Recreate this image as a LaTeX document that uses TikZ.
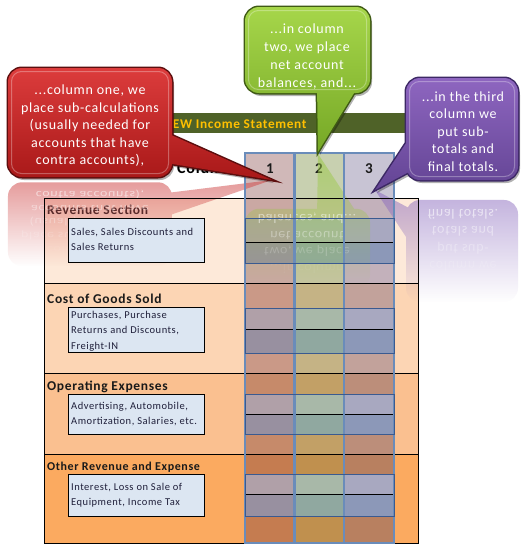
\documentclass[tikz,border=0pt]{standalone}
\usepackage{fontspec}
\setmainfont{Carlito}
\newfontfamily\wide{Carlito}[LetterSpace=5]
\usetikzlibrary{fadings}
\definecolor{secA}{HTML}{FDE9D9}
\definecolor{secB}{HTML}{FCD5B4}
\definecolor{secC}{HTML}{FAC090}
\definecolor{secD}{HTML}{FBAA60}
\definecolor{hA}{HTML}{D0B8B8}\definecolor{hB}{HTML}{C8D0B0}\definecolor{hC}{HTML}{C8C4D4}
\definecolor{aA}{HTML}{CAA8A3}\definecolor{aB}{HTML}{C5C4A1}\definecolor{aC}{HTML}{C3B1BB}
\definecolor{bA}{HTML}{CA9987}\definecolor{bB}{HTML}{C5B385}\definecolor{bC}{HTML}{C2A29B}
\definecolor{cA}{HTML}{C68A6A}\definecolor{cB}{HTML}{C2A066}\definecolor{cC}{HTML}{BC8E7A}
\definecolor{dA}{HTML}{C57C50}\definecolor{dB}{HTML}{C0904E}\definecolor{dC}{HTML}{B88060}
\definecolor{mA}{HTML}{B0A0A8}\definecolor{mB}{HTML}{A8B8A8}\definecolor{mC}{HTML}{A8A8C0}
\definecolor{nA}{HTML}{9890A0}\definecolor{nB}{HTML}{90A8A0}\definecolor{nC}{HTML}{8C98B8}
\definecolor{boxfill}{HTML}{DCE6F2}
\definecolor{colline}{HTML}{6A8CBA}
\definecolor{midline}{HTML}{3A5A90}
\definecolor{barolive}{HTML}{4F6228}
\definecolor{bartext}{HTML}{FFC000}
\definecolor{headtext}{HTML}{1A1A1A}
\definecolor{boxtxt}{HTML}{1F1F3A}
\definecolor{redtop}{HTML}{DC3C3C}\definecolor{redbot}{HTML}{A81818}\definecolor{redline}{HTML}{5C0E0E}\definecolor{redmid}{HTML}{D04848}
\definecolor{grntop}{HTML}{A6D64A}\definecolor{grnbot}{HTML}{76A826}\definecolor{grnline}{HTML}{3F5A14}\definecolor{grnmid}{HTML}{98C840}
\definecolor{purtop}{HTML}{8E66C0}\definecolor{purbot}{HTML}{634494}\definecolor{purline}{HTML}{3C2864}\definecolor{purmid}{HTML}{8A6ABE}
\tikzfading[name=reflfade, top color=transparent!45, bottom color=transparent!100]
\newcommand\cellrow[5]{%
  \fill[#3] (245,#1) rectangle (294,#2);
  \fill[#4] (294,#1) rectangle (344,#2);
  \fill[#5] (344,#1) rectangle (394,#2);}
\def\redpath{[rounded corners=14pt] (90,68) -- (172,68) -- (172,177) -- (8,177) -- (8,68) -- cycle [sharp corners] (160,130) -- (272,180) -- (160,162) -- cycle}
\def\grnpath{[rounded corners=14pt] (307,7) -- (370,7) -- (370,93) -- (245,93) -- (245,7) -- cycle [sharp corners] (317,85) -- (359,85) -- (318,152) -- cycle}
\def\purpath{[rounded corners=14pt] (462,78) -- (518,78) -- (518,180) -- (406,180) -- (406,78) -- cycle [sharp corners] (418,125) -- (422,165) -- (375,190) -- cycle}
\begin{document}
\begin{tikzpicture}[x=1pt,y=-1pt,
  sectitle/.style={anchor=base west, inner sep=0, text=headtext, font=\wide\fontsize{13.5}{15}\selectfont\bfseries},
  boxtext/.style={anchor=base west, inner sep=0, text=boxtxt, font=\wide\fontsize{10.5}{12}\selectfont},
  bubtext/.style={anchor=base, inner sep=0, text=white, font=\wide\fontsize{14}{16}\selectfont},
  refltext/.style={bubtext, transform shape},
  colnum/.style={anchor=base, inner sep=0, text=headtext, font=\fontsize{15}{17}\selectfont\bfseries},
  innerbox/.style={fill=boxfill, draw=black, line width=0.8pt},
  rowline/.style={black, line width=0.7pt},
  shadowfill/.style={black, opacity=0.3}]
\useasboundingbox (0,0) rectangle (521,549);
\fill[white] (0,0) rectangle (521,549);
% section backgrounds
\fill[secA] (44,198) rectangle (418,283);
\fill[secB] (44,283) rectangle (418,373);
\fill[secC] (44,373) rectangle (418,454);
\fill[secD] (44,454) rectangle (418,543);
% column cells
\cellrow{153}{198}{hA}{hB}{hC}
\cellrow{198}{218}{aA}{aB}{aC}
\cellrow{218}{242}{mA}{mB}{mC}
\cellrow{242}{263}{nA}{nB}{nC}
\cellrow{263}{283}{aA}{aB}{aC}
\cellrow{283}{308}{bA}{bB}{bC}
\cellrow{308}{329}{mA}{mB}{mC}
\cellrow{329}{353}{nA}{nB}{nC}
\cellrow{353}{373}{bA}{bB}{bC}
\cellrow{373}{394}{cA}{cB}{cC}
\cellrow{394}{414}{mA}{mB}{mC}
\cellrow{414}{434}{nA}{nB}{nC}
\cellrow{434}{454}{cA}{cB}{cC}
\cellrow{454}{474}{dA}{dB}{dC}
\cellrow{474}{494}{mA}{mB}{mC}
\cellrow{494}{516}{nA}{nB}{nC}
\cellrow{516}{543}{dA}{dB}{dC}
% title bar
\fill[barolive] (44,113) rectangle (418,133);
\node[anchor=base, inner sep=0, text=bartext, font=\wide\fontsize{13.3}{15}\selectfont\bfseries] (title) at (235,128.5) {NEW Income Statement};
\node[anchor=base west, inner sep=0, text=black, font=\wide\fontsize{16}{18}\selectfont\bfseries] (colword) at (177,173) {Column};
\node[colnum] (n1) at (270,173) {1};
\node[colnum] (n2) at (319,173) {2};
\node[colnum] (n3) at (369,173) {3};
% section titles
\node[sectitle] (s1) at (47,214) {Revenue Section};
\node[sectitle] (s2) at (47,303) {Cost of Goods Sold};
\node[sectitle] (s3) at (47,390) {Operating Expenses};
\node[sectitle, font=\wide\fontsize{12}{14}\selectfont\bfseries] (s4) at (47,470) {Other Revenue and Expense};
% reflections
\begin{scope}[yshift=-318.6pt, yscale=-0.77]
  \fill[redmid, path fading=reflfade] \redpath;
  \node[refltext, text opacity=.55] (r5) at (90,164.5) {contra accounts),};
  \node[refltext, text opacity=.42] (r4) at (90,147) {accounts that have};
  \node[refltext, text opacity=.3] (r3) at (90,129.5) {(usually needed for};
  \node[refltext, text opacity=.18] (r2) at (90,112) {place sub-calculations};
  \node[refltext, text opacity=.06] (r1) at (90,94) {...column one, we};
\end{scope}
\begin{scope}[yshift=-295.3pt, yscale=-0.93]
  \fill[grnmid, path fading=reflfade] \grnpath;
  \node[refltext, text opacity=.5] (g4r) at (307,87) {balances, and...};
  \node[refltext, text opacity=.35] (g3r) at (307,69) {net account};
  \node[refltext, text opacity=.2] (g2r) at (307,51) {two, we place};
  \node[refltext, text opacity=.06] (g1r) at (307,33) {...in column};
\end{scope}
\begin{scope}[yshift=-380pt, yscale=-1]
  \fill[purmid, path fading=reflfade] \purpath;
  \node[refltext, text opacity=.6] (p5r) at (463,171) {final totals.};
  \node[refltext, text opacity=.45] (p4r) at (463,153.5) {totals and};
  \node[refltext, text opacity=.3] (p3r) at (463,136) {put sub-};
  \node[refltext, text opacity=.15] (p2r) at (463,118.5) {column we};
  \node[refltext, text opacity=.04] (p1r) at (463,101) {...in the third};
\end{scope}
% inner boxes
\draw[innerbox] (68,218) rectangle (204,262);
\draw[innerbox] (68,307) rectangle (204,352);
\draw[innerbox] (68,394) rectangle (204,434);
\draw[innerbox] (68,474) rectangle (204,516);
\node[boxtext] (b1a) at (71,235.5) {Sales, Sales Discounts and};
\node[boxtext] (b1b) at (71,250.5) {Sales Returns};
\node[boxtext] (b2a) at (71,318) {Purchases, Purchase};
\node[boxtext] (b2b) at (71,333.5) {Returns and Discounts,};
\node[boxtext] (b2c) at (71,349) {Freight-IN};
\node[boxtext] (b3a) at (71,409) {Advertising, Automobile,};
\node[boxtext] (b3b) at (71,424) {Amortization, Salaries, etc.};
\node[boxtext] (b4a) at (71,490.5) {Interest, Loss on Sale of};
\node[boxtext] (b4b) at (71,505.5) {Equipment, Income Tax};
% grid lines in the columns
\foreach \yy in {218,242,263,308,329,353,394,414,434,474,494,516}
  \draw[rowline] (245,\yy) -- (394,\yy);
\foreach \yy in {198,283,373,454}
  \draw[rowline] (44,\yy) -- (418,\yy);
\draw[black, line width=1pt] (44,198) rectangle (418,543);
\foreach \xx in {245,294,344}
  \draw[colline, line width=1.1pt] (\xx,153) rectangle (\xx+50,543);
\foreach \ya/\yb in {218/263,308/353,394/434,474/516}
  \draw[midline, line width=1pt] (245,\ya) rectangle (394,\yb);
% red bubble
\begin{scope}[shift={(2,3)}]\fill[shadowfill] \redpath;\end{scope}
\draw[redline, line width=3pt] \redpath;
\shade[top color=redtop, bottom color=redbot] \redpath;
\draw[white, opacity=.3, line width=1pt, rounded corners=10pt] (11.5,71.5) rectangle (168.5,173.5);
\node[bubtext] (t1) at (90,94) {...column one, we};
\node[bubtext] (t2) at (90,112) {place sub-calculations};
\node[bubtext] (t3) at (90,129.5) {(usually needed for};
\node[bubtext] (t4) at (90,147) {accounts that have};
\node[bubtext] (t5) at (90,164.5) {contra accounts),};
% green bubble
\begin{scope}[shift={(2,3)}]\fill[shadowfill] \grnpath;\end{scope}
\draw[grnline, line width=3pt] \grnpath;
\shade[top color=grntop, bottom color=grnbot] \grnpath;
\draw[white, opacity=.3, line width=1pt, rounded corners=10pt] (248.5,10.5) rectangle (366.5,89.5);
\node[bubtext] (g1) at (307,33) {...in column};
\node[bubtext] (g2) at (307,51) {two, we place};
\node[bubtext] (g3) at (307,69) {net account};
\node[bubtext] (g4) at (307,87) {balances, and...};
% purple bubble
\begin{scope}[shift={(2,3)}]\fill[shadowfill] \purpath;\end{scope}
\draw[purline, line width=3pt] \purpath;
\shade[top color=purtop, bottom color=purbot] \purpath;
\draw[white, opacity=.3, line width=1pt, rounded corners=10pt] (409.5,81.5) rectangle (514.5,176.5);
\node[bubtext] (p1) at (463,101) {...in the third};
\node[bubtext] (p2) at (463,118.5) {column we};
\node[bubtext] (p3) at (463,136) {put sub-};
\node[bubtext] (p4) at (463,153.5) {totals and};
\node[bubtext] (p5) at (463,171) {final totals.};
\end{tikzpicture}
\end{document}
